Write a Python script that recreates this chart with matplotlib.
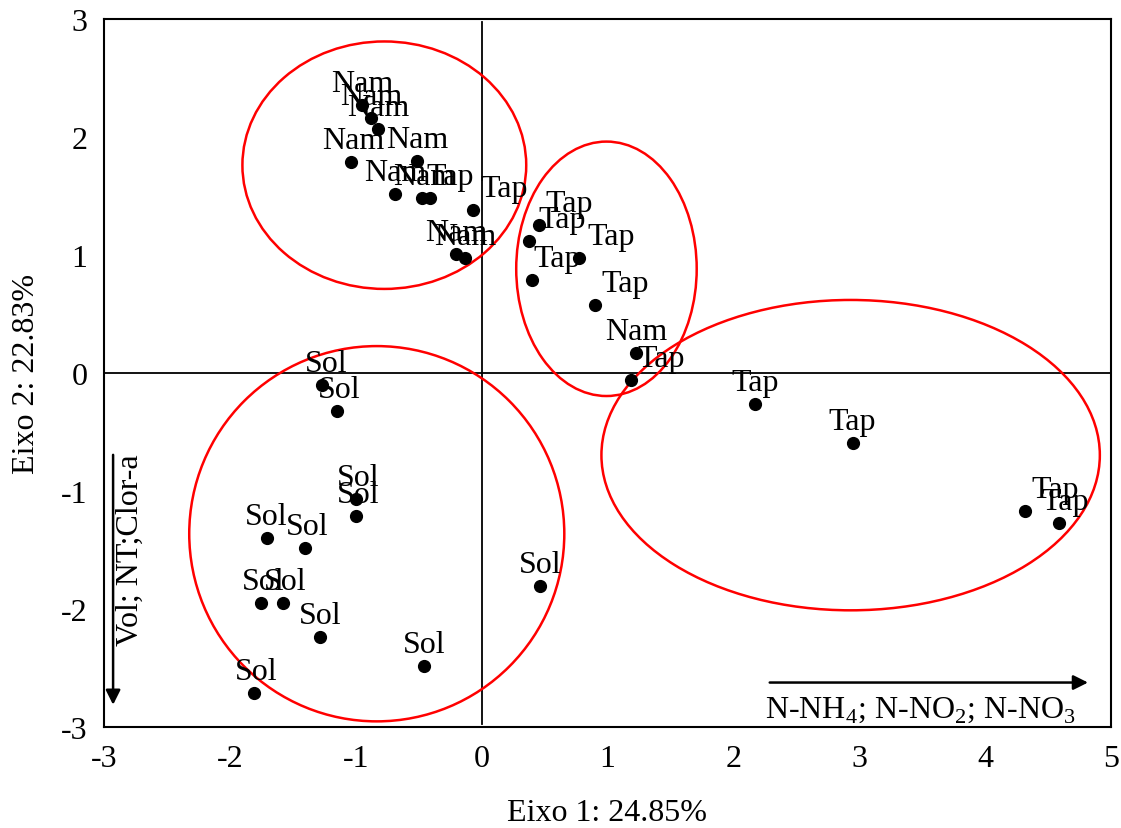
import matplotlib.pyplot as plt
from matplotlib.patches import Ellipse

plt.rcParams['font.family'] = ['Liberation Serif', 'DejaVu Serif']
plt.rcParams['mathtext.fontset'] = 'custom'
plt.rcParams['mathtext.rm'] = 'Liberation Serif'
plt.rcParams['axes.unicode_minus'] = False

# scores on the first two axes
eixo1 = [-0.952, -0.880, -0.825, -1.040, -0.514, -0.690, -0.474, -0.410, -0.068, -0.203, -0.131,
         0.453, 0.378, 0.777, 0.397, 0.899, 1.229, 1.189,
         2.171, 2.947, 4.315, 4.588,
         -1.268, -1.149, -0.995, -0.995, -1.709, -1.404, -1.749, -1.576, -1.284, -0.456, -1.807, 0.466]
eixo2 = [2.267, 2.165, 2.070, 1.790, 1.800, 1.520, 1.486, 1.486, 1.384, 1.010, 0.976,
         1.256, 1.115, 0.974, 0.784, 0.580, 0.170, -0.057,
         -0.263, -0.594, -1.169, -1.273,
         -0.099, -0.325, -1.064, -1.211, -1.398, -1.480, -1.952, -1.952, -2.238, -2.485, -2.711, -1.808]
rotulos = ['Nam', 'Nam', 'Nam', 'Nam', 'Nam', 'Nam', 'Nam', 'Tap', 'Tap', 'Nam', 'Nam',
           'Tap', 'Tap', 'Tap', 'Tap', 'Tap', 'Nam', 'Tap',
           'Tap', 'Tap', 'Tap', 'Tap',
           'Sol', 'Sol', 'Sol', 'Sol', 'Sol', 'Sol', 'Sol', 'Sol', 'Sol', 'Sol', 'Sol', 'Sol']

# groups (center x, center y, width, height)
grupo_cx = [-0.773, 0.992, -0.833, 2.932]
grupo_cy = [1.761, 0.883, -1.362, -0.696]
grupo_w = [2.255, 1.434, 2.98, 3.96]
grupo_h = [2.097, 2.156, 3.18, 2.63]

# label shift to the right (pixels)
desloc = [0, 0, 0, 3, 0, 0, 2, 20, 31, 0, 0,
          31, 33, 32, 26, 30, 0, 30,
          0, 0, 30, 6,
          4, 2, 2, 2, 0, 2, 2, 2, 0, 0, 2, 0]

fig = plt.figure(figsize=(11.21, 8.29), dpi=100)
ax = fig.add_axes([0.0928, 0.1218, 0.8982, 0.8541])

ax.axhline(0, color='black', lw=1.3, zorder=1)
ax.axvline(0, color='black', lw=1.3, ymin=0.004, ymax=0.996, zorder=1)

for cx, cy, w, h in zip(grupo_cx, grupo_cy, grupo_w, grupo_h):
    ax.add_patch(Ellipse((cx, cy), w, h, fill=False, edgecolor='#ff0000', lw=1.8, zorder=2))

ax.scatter(eixo1, eixo2, s=72, color='black', zorder=3)
for x, y, t, dx in zip(eixo1, eixo2, rotulos, desloc):
    ax.annotate(t, (x, y), xytext=(dx, 14), textcoords='offset pixels',
                ha='center', va='baseline', fontsize=23, zorder=4)

# variable arrows
ax.annotate('', xy=(4.84, -2.623), xytext=(2.267, -2.623),
            arrowprops=dict(arrowstyle='-|>', color='black', lw=1.8, mutation_scale=22))
ax.text(2.25, -2.72, 'N-NH$_4$; N-NO$_2$; N-NO$_3$', fontsize=23, ha='left', va='top')
ax.annotate('', xy=(-2.928, -2.835), xytext=(-2.928, -0.67),
            arrowprops=dict(arrowstyle='-|>', color='black', lw=1.8, mutation_scale=22))
ax.text(-2.79, -0.68, 'Vol; NT;Clor-a', fontsize=23, rotation=90, ha='center', va='top')

ax.set_xlim(-3, 5)
ax.set_ylim(-3, 3)
ax.set_xticks(range(-3, 6))
ax.set_yticks(range(-3, 4))
ax.tick_params(length=0, labelsize=23, pad=12)
for s in ax.spines.values():
    s.set_linewidth(1.5)

ax.set_xlabel('Eixo 1: 24.85%', fontsize=23, labelpad=18)
ax.set_ylabel('Eixo 2: 22.83%', fontsize=23, labelpad=14)

fig.savefig('out.png', dpi=100)
